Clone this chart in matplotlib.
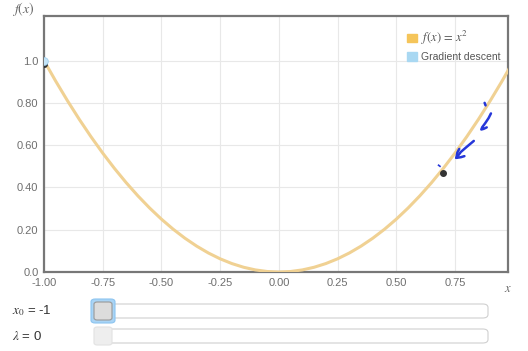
import matplotlib
matplotlib.use("Agg")
import matplotlib.pyplot as plt
from matplotlib.patches import FancyBboxPatch, Rectangle

plt.rcParams["font.family"] = ["Liberation Sans", "DejaVu Sans"]
plt.rcParams["mathtext.fontset"] = "stix"

# ---- data ----
x_vals = [-1.00, -0.95, -0.90, -0.85, -0.80, -0.75, -0.70, -0.65, -0.60, -0.55, -0.50,
          -0.45, -0.40, -0.35, -0.30, -0.25, -0.20, -0.15, -0.10, -0.05, 0.00,
          0.05, 0.10, 0.15, 0.20, 0.25, 0.30, 0.35, 0.40, 0.45, 0.50,
          0.55, 0.60, 0.65, 0.70, 0.75, 0.80, 0.85, 0.90, 0.95, 1.00]
f_vals = [1.0, 0.9025, 0.81, 0.7225, 0.64, 0.5625, 0.49, 0.4225, 0.36, 0.3025, 0.25,
          0.2025, 0.16, 0.1225, 0.09, 0.0625, 0.04, 0.0225, 0.01, 0.0025, 0.0,
          0.0025, 0.01, 0.0225, 0.04, 0.0625, 0.09, 0.1225, 0.16, 0.2025, 0.25,
          0.3025, 0.36, 0.4225, 0.49, 0.5625, 0.64, 0.7225, 0.81, 0.9025, 1.0]
gd_x = [-1.0]
gd_y = [1.0]
dark_x = [-1.0, 0.70]
dark_y = [0.985, 0.47]
x_ticks = [-1.00, -0.75, -0.50, -0.25, 0.00, 0.25, 0.50, 0.75]
x_tick_labels = ["-1.00", "-0.75", "-0.50", "-0.25", "0.00", "0.25", "0.50", "0.75"]
y_ticks = [0.0, 0.2, 0.4, 0.6, 0.8, 1.0]
y_tick_labels = ["0.0", "0.20", "0.40", "0.60", "0.80", "1.0"]
# hand-drawn ink annotations (data coords)
ink_dot = ([0.876, 0.880], [0.800, 0.788])
ink_hook = ([0.903, 0.893, 0.878, 0.866, 0.862, 0.872, 0.885],
            [0.750, 0.728, 0.703, 0.685, 0.674, 0.677, 0.684])
ink_arrow = ([0.830, 0.800, 0.775, 0.756], [0.620, 0.592, 0.568, 0.540])
ink_head1 = ([0.756, 0.760, 0.768], [0.540, 0.565, 0.582])
ink_head2 = ([0.756, 0.775, 0.790], [0.540, 0.543, 0.548])
ink_dots = ([0.680, 0.686], [0.505, 0.500])

fig = plt.figure(figsize=(5.28, 3.51), dpi=100)
ax = fig.add_axes([0.0833, 0.225, 0.879, 0.729])

ax.plot(x_vals, f_vals, color="#f0d193", lw=2.2, solid_capstyle="round", zorder=3)
ax.plot(dark_x, dark_y, "o", color="#333333", ms=4, zorder=4)
ax.plot(gd_x, gd_y, "o", color="#c4e4f7", mec="#9fd0ee", mew=0.6, ms=5.5, zorder=5)

ink = "#2637d9"
for xs, ys in [ink_dot, ink_hook, ink_arrow, ink_head1, ink_head2]:
    ax.plot(xs, ys, color=ink, lw=1.8, solid_capstyle="round", zorder=6)
ax.plot(ink_dots[0], ink_dots[1], color=ink, lw=1.2, zorder=6)

ax.set_xlim(-1.0, 0.976)
ax.set_ylim(0, 1.21)
ax.set_xticks(x_ticks)
ax.set_xticklabels(x_tick_labels)
ax.set_yticks(y_ticks)
ax.set_yticklabels(y_tick_labels)
ax.tick_params(length=0, labelsize=8, colors="#6f6f6f", pad=4)
ax.grid(True, color="#e8e8e8", lw=0.8)
ax.set_axisbelow(True)
for s in ax.spines.values():
    s.set_color("#777777")
    s.set_linewidth(1.6)

fig.text(0.962, 0.168, "$x$", fontsize=9, color="#666666", ha="center")
fig.text(0.045, 0.962, "$f(x)$", fontsize=10, color="#666666", ha="center")

handles = [Rectangle((0, 0), 1, 1, fc="#f5c55a", ec="#f5c55a"),
           Rectangle((0, 0), 1, 1, fc="#a9d8f2", ec="#a9d8f2")]
leg = ax.legend(handles, [r"$f(x)\,=\,x^2$", "Gradient descent"], loc="upper right",
                frameon=False, fontsize=7.5, handlelength=1.0, handleheight=0.9,
                handletextpad=0.4, borderaxespad=0.3, labelspacing=0.55,
                bbox_to_anchor=(1.0, 0.98))
plt.setp(leg.get_texts(), color="#555555")
leg.get_texts()[0].set_fontsize(9)

# sliders
W, H = 528.0, 351.0
def fx(p): return p / W
def fy(p): return 1 - p / H

for (label, cy, active) in [(r"$x_0$ = -1", 311, True), (r"$\lambda$ = 0", 336, False)]:
    fig.text(fx(12), fy(cy), label, fontsize=9.5, color="#333333", va="center")
    track = FancyBboxPatch((fx(100), fy(cy + 7)), fx(488) - fx(100), fy(cy - 7) - fy(cy + 7),
                           boxstyle="round,pad=0,rounding_size=0.01",
                           transform=fig.transFigure, fc="white", ec="#d0d0d0", lw=0.8)
    fig.patches.append(track)
    if active:
        glow = FancyBboxPatch((fx(91), fy(cy + 12)), fx(115) - fx(91), fy(cy - 12) - fy(cy + 12),
                              boxstyle="round,pad=0,rounding_size=0.008",
                              transform=fig.transFigure, fc="#a9d4f5", ec="#8cc4f0", lw=0.8)
        fig.patches.append(glow)
        handle = FancyBboxPatch((fx(94), fy(cy + 9)), fx(112) - fx(94), fy(cy - 9) - fy(cy + 9),
                                boxstyle="round,pad=0,rounding_size=0.006",
                                transform=fig.transFigure, fc="#dcdcdc", ec="#999999", lw=0.8)
        fig.patches.append(handle)
    else:
        handle = FancyBboxPatch((fx(94), fy(cy + 9)), fx(112) - fx(94), fy(cy - 9) - fy(cy + 9),
                                boxstyle="round,pad=0,rounding_size=0.006",
                                transform=fig.transFigure, fc="#eeeeee", ec="#e2e2e2", lw=0.8)
        fig.patches.append(handle)

fig.savefig("out.png", dpi=100, facecolor="white")
